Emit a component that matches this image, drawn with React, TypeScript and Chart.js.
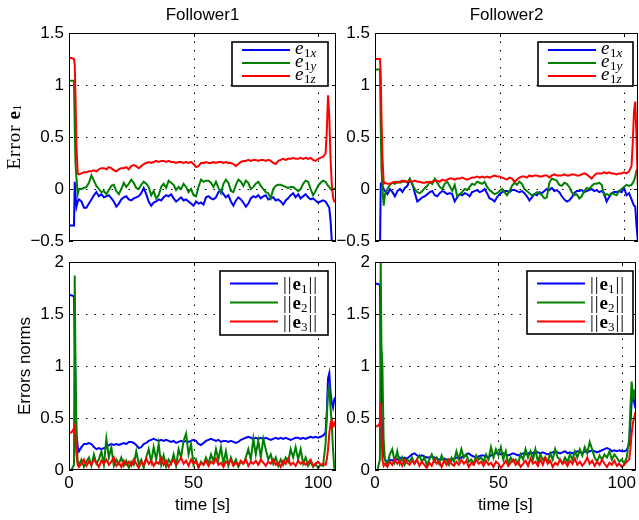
import React, { useEffect, useRef } from 'react';
import { Chart, registerables } from 'chart.js';

Chart.register(...registerables);

const SANS = '"Liberation Sans", Arial, Helvetica, sans-serif';
const SERIF = '"Liberation Serif", "Times New Roman", serif';

// ---------------- data ----------------
const TITLES = ['Follower1', 'Follower2'];
const X_TICKS = [0, 50, 100];
const Y_TICKS_TOP = [-0.5, 0, 0.5, 1, 1.5];
const Y_TICKS_BOTTOM = [0, 0.5, 1, 1.5, 2];
const LEGEND_TOP_SUB = ['1x', '1y', '1z'];
const LEGEND_BOTTOM_SUB = ['1', '2', '3'];

const T_F1 = [0, 1, 2, 2.3, 2.6, 3, 3.5, 4,
  5, 6, 7, 8, 9, 10, 11, 12, 13, 14,
  15, 16, 17, 18, 19, 20, 21, 22, 23, 24,
  25, 26, 27, 28, 29, 30, 31, 32, 33, 34,
  35, 36, 37, 38, 39, 40, 41, 42, 43, 44,
  45, 46, 47, 48, 49, 50, 51, 52, 53, 54,
  55, 56, 57, 58, 59, 60, 61, 62, 63, 64,
  65, 66, 67, 68, 69, 70, 71, 72, 73, 74,
  75, 76, 77, 78, 79, 80, 81, 82, 83, 84,
  85, 86, 87, 88, 89, 90, 91, 92, 93, 94,
  95, 96, 97, 98, 99, 100, 101, 102,
  103, 103.5, 104, 104.5, 105, 105.5, 106, 106.5, 107];

const T_F2 = [0, 1, 2, 2.3, 2.6, 3, 3.5, 4,
  5, 6, 7, 8, 9, 10, 11, 12, 13, 14,
  15, 16, 17, 18, 19, 20, 21, 22, 23, 24,
  25, 26, 27, 28, 29, 30, 31, 32, 33, 34,
  35, 36, 37, 38, 39, 40, 41, 42, 43, 44,
  45, 46, 47, 48, 49, 50, 51, 52, 53, 54,
  55, 56, 57, 58, 59, 60, 61, 62, 63, 64,
  65, 66, 67, 68, 69, 70, 71, 72, 73, 74,
  75, 76, 77, 78, 79, 80, 81, 82, 83, 84,
  85, 86, 87, 88, 89, 90, 91, 92, 93, 94,
  95, 96, 97, 98, 99, 100, 101, 102,
  103, 103.5, 104, 104.5, 105, 105.5, 106];

// Follower1, error e1 components
const F1_E1X = [-0.35, -0.35, -0.35, 0.07, -0.05, -0.17, -0.12, -0.1,
  -0.12, -0.18, -0.18, -0.14, -0.1, -0.06, -0.03, -0.07, -0.05, -0.08,
  -0.07, -0.06, -0.09, -0.12, -0.17, -0.14, -0.1, -0.08, -0.07, -0.1,
  -0.11, -0.09, -0.08, -0.07, -0.04, 0.01, -0.05, -0.12, -0.16, -0.13,
  -0.12, -0.1, -0.11, -0.08, -0.06, -0.07, -0.05, -0.09, -0.12, -0.1,
  -0.08, -0.11, -0.1, -0.12, -0.14, -0.16, -0.12, -0.14, -0.13, -0.15,
  -0.08, -0.07, -0.09, -0.1, -0.08, -0.03, -0.01, -0.05, -0.08, -0.06,
  -0.12, -0.16, -0.11, -0.08, -0.1, -0.13, -0.17, -0.14, -0.09, -0.07,
  -0.08, -0.06, -0.09, -0.07, -0.06, -0.1, -0.09, -0.08, -0.11, -0.1,
  -0.12, -0.15, -0.11, -0.09, -0.06, -0.04, -0.08, -0.05, -0.09, -0.07,
  -0.05, -0.08, -0.1, -0.09, -0.11, -0.13, -0.12, -0.11,
  -0.12, -0.14, -0.16, -0.18, -0.3, -0.5, -0.65, -0.75, -0.8];
const F1_E1Y = [1.04, 1.04, 1.04, 0.6, 0.25, 0.1, -0.05, 0.0,
  0.0, 0.01, 0.02, 0.06, 0.13, 0.08, 0.03, 0.0, -0.03, -0.02,
  -0.05, -0.01, 0.03, 0.04, -0.02, -0.05, 0.0, 0.06, 0.02, 0.05,
  0.09, 0.06, 0.01, 0.0, 0.04, 0.07, 0.05, 0.02, -0.06, -0.02,
  -0.09, -0.06, 0.02, 0.05, 0.01, 0.08, 0.06, 0.04, -0.01, 0.02,
  0.0, 0.05, 0.02, -0.03, 0.0, -0.06, -0.07, 0.02, 0.09, 0.07,
  0.08, 0.08, 0.06, 0.02, 0.07, 0.01, -0.04, 0.05, 0.09, 0.06,
  -0.02, -0.03, 0.04, 0.09, 0.07, 0.03, 0.08, 0.06, 0.0, 0.02,
  0.05, 0.07, 0.03, 0.0, -0.03, -0.04, -0.09, 0.0, 0.03, 0.04,
  0.04, 0.03, 0.02, 0.01, 0.02, 0.02, 0.0, -0.02, 0.0, 0.05,
  0.08, 0.07, 0.0, -0.06, -0.02, 0.03, 0.06, 0.08,
  0.07, 0.05, 0.03, 0.02, 0.0, -0.01, 0.0, 0.0, 0.01];
const F1_E1Z = [1.26, 1.26, 1.25, 1.2, 0.9, 0.4, 0.15, 0.14,
  0.15, 0.16, 0.16, 0.17, 0.17, 0.18, 0.17, 0.19, 0.2, 0.2,
  0.19, 0.21, 0.2, 0.18, 0.17, 0.19, 0.2, 0.2, 0.21, 0.19,
  0.22, 0.23, 0.22, 0.2, 0.22, 0.24, 0.25, 0.26, 0.25, 0.26,
  0.27, 0.26, 0.27, 0.27, 0.26, 0.27, 0.26, 0.26, 0.25, 0.26,
  0.26, 0.25, 0.26, 0.25, 0.26, 0.24, 0.21, 0.22, 0.25, 0.25,
  0.26, 0.25, 0.25, 0.26, 0.25, 0.26, 0.26, 0.25, 0.26, 0.25,
  0.25, 0.24, 0.22, 0.24, 0.26, 0.27, 0.27, 0.28, 0.27, 0.28,
  0.28, 0.27, 0.28, 0.28, 0.27, 0.28, 0.27, 0.25, 0.24, 0.27,
  0.28, 0.29, 0.28, 0.29, 0.29, 0.3, 0.29, 0.29, 0.3, 0.29,
  0.3, 0.29, 0.3, 0.28, 0.27, 0.29, 0.3, 0.31,
  0.34, 0.55, 0.9, 0.7, 0.3, 0.05, -0.08, -0.12, -0.12];

// Follower2, error e1 components
const F2_E1X = [-0.6, -0.6, -0.6, 0.05, 0.06, 0.03, 0.0, -0.02,
  -0.05, 0.0, -0.03, -0.07, -0.02, 0.0, -0.03, 0.01, 0.03, 0.09,
  0.05, -0.04, -0.12, -0.1, -0.08, -0.07, -0.05, -0.03, -0.02, -0.06,
  -0.07, -0.04, -0.02, -0.03, -0.05, -0.04, -0.05, -0.12, -0.08, -0.05,
  -0.06, -0.04, -0.05, -0.07, -0.03, -0.02, -0.01, -0.03, -0.02, 0.0,
  -0.04, -0.09, -0.1, -0.12, -0.08, -0.05, -0.03, -0.02, -0.02, -0.03,
  -0.01, -0.01, -0.02, -0.03, -0.02, -0.04, -0.07, -0.11, -0.08, -0.05,
  -0.06, -0.03, -0.04, -0.02, 0.0, -0.01, 0.01, -0.02, -0.01, -0.03,
  -0.07, -0.1, -0.12, -0.11, -0.08, -0.04, -0.02, -0.02, -0.01, -0.03,
  -0.02, -0.01, 0.0, -0.02, -0.01, -0.03, -0.02, -0.04, -0.12, -0.08,
  -0.04, -0.03, -0.03, -0.02, -0.03, 0.01, -0.06, -0.04,
  -0.1, -0.13, -0.16, -0.17, -0.35, -0.49, -0.6];
const F2_E1Y = [1.15, 1.15, 1.15, 0.6, 0.2, 0.0, -0.16, -0.05,
  0.0, 0.04, 0.06, 0.05, 0.07, 0.06, 0.07, 0.08, 0.06, 0.1,
  0.04, 0.0, -0.03, -0.04, -0.02, 0.01, 0.03, 0.07, 0.05, 0.1,
  0.06, 0.02, 0.0, 0.05, 0.07, 0.03, -0.02, 0.04, -0.07, -0.05,
  -0.03, 0.0, -0.01, 0.02, 0.05, 0.04, 0.07, 0.06, 0.05, 0.07,
  0.02, -0.01, -0.03, -0.05, -0.04, -0.02, 0.0, -0.03, -0.06, -0.02,
  0.03, 0.06, 0.04, 0.07, 0.05, 0.0, -0.02, -0.04, -0.06, -0.05,
  -0.03, -0.04, -0.06, -0.09, -0.08, 0.06, 0.1, 0.09, 0.08, 0.04,
  0.03, 0.06, 0.05, 0.02, -0.03, -0.06, -0.05, -0.09, -0.07, -0.02,
  0.01, 0.0, 0.03, 0.05, 0.05, 0.06, 0.04, -0.06, -0.05, -0.06,
  -0.04, -0.05, -0.06, -0.02, 0.0, 0.02, 0.04, 0.03,
  0.04, 0.06, 0.08, 0.12, 0.18, 0.19, 0.2];
const F2_E1Z = [1.25, 1.25, 1.25, 1.1, 0.7, 0.3, 0.05, 0.06,
  0.05, 0.05, 0.06, 0.07, 0.06, 0.07, 0.08, 0.07, 0.07, 0.08,
  0.07, 0.08, 0.07, 0.07, 0.06, 0.06, 0.07, 0.06, 0.07, 0.08,
  0.08, 0.07, 0.09, 0.08, 0.09, 0.1, 0.1, 0.09, 0.1, 0.1,
  0.11, 0.1, 0.09, 0.1, 0.11, 0.11, 0.12, 0.11, 0.12, 0.11,
  0.12, 0.11, 0.12, 0.13, 0.12, 0.12, 0.11, 0.1, 0.09, 0.11,
  0.1, 0.07, 0.09, 0.11, 0.12, 0.12, 0.11, 0.13, 0.12, 0.13,
  0.13, 0.12, 0.12, 0.13, 0.13, 0.11, 0.13, 0.14, 0.13, 0.13,
  0.13, 0.14, 0.13, 0.13, 0.14, 0.14, 0.13, 0.13, 0.14, 0.15,
  0.14, 0.12, 0.1, 0.13, 0.15, 0.15, 0.15, 0.16, 0.15, 0.16,
  0.15, 0.15, 0.14, 0.15, 0.15, 0.16, 0.15, 0.17,
  0.22, 0.45, 0.75, 0.84, 0.5, 0.05, -0.05];

// Follower1, error norms
const F1_N1 = [1.68, 1.68, 1.67, 1.3, 0.8, 0.35, 0.22, 0.18,
  0.22, 0.25, 0.25, 0.26, 0.25, 0.22, 0.2, 0.21, 0.2, 0.21,
  0.22, 0.24, 0.25, 0.24, 0.25, 0.24, 0.25, 0.26, 0.25, 0.27,
  0.27, 0.26, 0.24, 0.21, 0.22, 0.25, 0.26, 0.28, 0.29, 0.3,
  0.29, 0.28, 0.29, 0.28, 0.29, 0.28, 0.27, 0.28, 0.26, 0.27,
  0.28, 0.27, 0.28, 0.27, 0.28, 0.29, 0.28, 0.25, 0.24, 0.26,
  0.28, 0.29, 0.3, 0.29, 0.28, 0.29, 0.27, 0.28, 0.28, 0.27,
  0.28, 0.27, 0.26, 0.27, 0.29, 0.3, 0.31, 0.32, 0.31, 0.3,
  0.31, 0.3, 0.31, 0.3, 0.31, 0.3, 0.29, 0.3, 0.31, 0.3,
  0.31, 0.3, 0.31, 0.3, 0.29, 0.3, 0.31, 0.31, 0.3, 0.31,
  0.3, 0.31, 0.32, 0.31, 0.32, 0.31, 0.32, 0.33,
  0.36, 0.55, 0.88, 0.93, 0.75, 0.65, 0.6, 0.68, 0.7];
const F1_N2 = [0, 0, 0.05, 1.87, 1.0, 0.3, 0.08, 0.05,
  0.1, 0.03, 0.08, 0.12, 0.04, 0.15, 0.06, 0.1, 0.18, 0.05,
  0.3, 0.12, 0.22, 0.04, 0.1, 0.06, 0.12, 0.04, 0.09, 0.02,
  0.08, 0.05, 0.18, 0.06, 0.1, 0.02, 0.12, 0.2, 0.08, 0.22,
  0.1, 0.25, 0.05, 0.14, 0.03, 0.1, 0.06, 0.15, 0.04, 0.2,
  0.12, 0.28, 0.35, 0.15, 0.25, 0.05, 0.1, 0.02, 0.08, 0.05,
  0.12, 0.06, 0.15, 0.08, 0.2, 0.1, 0.22, 0.06, 0.18, 0.04,
  0.12, 0.05, 0.1, 0.03, 0.08, 0.06, 0.12, 0.2, 0.1, 0.3,
  0.15, 0.28, 0.12, 0.3, 0.2, 0.1, 0.15, 0.06, 0.12, 0.04,
  0.1, 0.05, 0.12, 0.08, 0.2, 0.12, 0.22, 0.1, 0.2, 0.06,
  0.12, 0.04, 0.08, 0.03, 0.06, 0.02, 0.05, 0.04,
  0.25, 0.5, 0.75, 0.8, 0.6, 0.45, 0.2, 0.02, 0.0];
const F1_N3 = [0.36, 0.36, 0.4, 0.45, 0.3, 0.15, 0.05, 0.03,
  0.06, 0.1, 0.04, 0.08, 0.05, 0.1, 0.07, 0.03, 0.09, 0.06,
  0.1, 0.05, 0.08, 0.12, 0.04, 0.07, 0.03, 0.09, 0.05, 0.08,
  0.04, 0.1, 0.06, 0.02, 0.08, 0.05, 0.11, 0.06, 0.09, 0.04,
  0.08, 0.06, 0.12, 0.05, 0.09, 0.03, 0.07, 0.1, 0.05, 0.08,
  0.12, 0.06, 0.09, 0.04, 0.1, 0.06, 0.08, 0.03, 0.07, 0.05,
  0.09, 0.04, 0.08, 0.06, 0.11, 0.05, 0.07, 0.03, 0.08, 0.06,
  0.1, 0.04, 0.07, 0.05, 0.09, 0.06, 0.1, 0.04, 0.08, 0.06,
  0.09, 0.05, 0.1, 0.07, 0.04, 0.08, 0.06, 0.1, 0.05, 0.07,
  0.03, 0.09, 0.06, 0.11, 0.05, 0.07, 0.04, 0.09, 0.06, 0.08,
  0.05, 0.07, 0.1, 0.04, 0.06, 0.08, 0.05, 0.06,
  0.05, 0.1, 0.2, 0.35, 0.45, 0.48, 0.42, 0.45, 0.42];

// Follower2, error norms
const F2_N1 = [1.79, 1.79, 1.78, 1.2, 0.6, 0.3, 0.15, 0.1,
  0.08, 0.1, 0.09, 0.11, 0.1, 0.12, 0.11, 0.12, 0.11, 0.13,
  0.15, 0.16, 0.14, 0.13, 0.14, 0.13, 0.12, 0.12, 0.13, 0.12,
  0.11, 0.1, 0.1, 0.11, 0.1, 0.1, 0.09, 0.11, 0.12, 0.11,
  0.12, 0.13, 0.15, 0.16, 0.14, 0.13, 0.12, 0.13, 0.14, 0.14,
  0.13, 0.12, 0.14, 0.15, 0.16, 0.16, 0.15, 0.16, 0.15, 0.14,
  0.15, 0.16, 0.15, 0.14, 0.15, 0.16, 0.15, 0.16, 0.17, 0.16,
  0.18, 0.17, 0.16, 0.17, 0.16, 0.15, 0.16, 0.17, 0.18, 0.17,
  0.16, 0.17, 0.18, 0.16, 0.17, 0.16, 0.17, 0.18, 0.17, 0.16,
  0.18, 0.17, 0.18, 0.19, 0.18, 0.17, 0.18, 0.19, 0.2, 0.21,
  0.2, 0.18, 0.19, 0.18, 0.19, 0.18, 0.18, 0.19,
  0.25, 0.45, 0.65, 0.77, 0.65, 0.6, 0.6];
const F2_N2 = [0, 0, 0.1, 2.05, 1.2, 1.0, 0.3, 0.1,
  0.05, 0.15, 0.2, 0.08, 0.18, 0.06, 0.12, 0.05, 0.1, 0.08,
  0.12, 0.06, 0.1, 0.14, 0.08, 0.12, 0.05, 0.1, 0.15, 0.08,
  0.12, 0.06, 0.14, 0.08, 0.1, 0.05, 0.12, 0.08, 0.18, 0.1,
  0.2, 0.12, 0.15, 0.08, 0.1, 0.06, 0.14, 0.1, 0.12, 0.08,
  0.15, 0.1, 0.22, 0.12, 0.2, 0.14, 0.22, 0.1, 0.18, 0.06,
  0.12, 0.08, 0.1, 0.06, 0.15, 0.1, 0.2, 0.12, 0.18, 0.1,
  0.2, 0.08, 0.15, 0.1, 0.12, 0.08, 0.16, 0.1, 0.2, 0.12,
  0.1, 0.06, 0.12, 0.08, 0.15, 0.1, 0.18, 0.12, 0.2, 0.14,
  0.22, 0.16, 0.27, 0.2, 0.12, 0.08, 0.14, 0.1, 0.15, 0.12,
  0.18, 0.1, 0.15, 0.12, 0.08, 0.1, 0.06, 0.12,
  0.3, 0.6, 0.85, 0.7, 0.75, 0.7, 0.72];
const F2_N3 = [0.42, 0.42, 0.45, 0.65, 0.4, 0.1, 0.04, 0.06,
  0.03, 0.08, 0.05, 0.1, 0.06, 0.09, 0.04, 0.1, 0.07, 0.05,
  0.09, 0.06, 0.1, 0.04, 0.08, 0.05, 0.02, 0.07, 0.04, 0.1,
  0.06, 0.08, 0.03, 0.09, 0.05, 0.1, 0.06, 0.04, 0.08, 0.05,
  0.1, 0.06, 0.09, 0.03, 0.07, 0.05, 0.1, 0.06, 0.08, 0.04,
  0.09, 0.05, 0.07, 0.03, 0.08, 0.06, 0.02, 0.05, 0.09, 0.04,
  0.07, 0.1, 0.05, 0.08, 0.03, 0.06, 0.09, 0.04, 0.11, 0.06,
  0.08, 0.04, 0.1, 0.05, 0.12, 0.06, 0.09, 0.03, 0.07, 0.05,
  0.1, 0.06, 0.08, 0.04, 0.09, 0.06, 0.11, 0.05, 0.08, 0.04,
  0.07, 0.12, 0.06, 0.09, 0.04, 0.08, 0.05, 0.1, 0.06, 0.03,
  0.07, 0.05, 0.09, 0.04, 0.06, 0.03, 0.05, 0.08,
  0.1, 0.2, 0.35, 0.45, 0.5, 0.55, 0.55];

// ---------------- styling / layout ----------------
const COLORS = ['#0000ff', '#008000', '#ff0000'];

type Run = { t: string; f: string; dy?: number; gap?: number };

const topLegendRuns = (sub: string): Run[] => [
  { t: 'e', f: `italic 19px ${SERIF}`, gap: 0.5 },
  { t: sub[0], f: `13px ${SERIF}`, dy: 3 },
  { t: sub.slice(1), f: `italic 13px ${SERIF}`, dy: 3 },
];
const bottomLegendRuns = (sub: string): Run[] => [
  { t: '|', f: `19px ${SERIF}`, gap: 1 },
  { t: '|', f: `19px ${SERIF}`, gap: 1 },
  { t: 'e', f: `bold 19px ${SERIF}` },
  { t: sub, f: `13px ${SERIF}`, dy: 3, gap: 1 },
  { t: '|', f: `19px ${SERIF}`, gap: 1 },
  { t: '|', f: `19px ${SERIF}` },
];

type Panel = {
  area: { l: number; t: number; r: number; b: number };
  xMax: number;
  yMin: number;
  yMax: number;
  yTicks: number[];
  showX: boolean;
  times: number[];
  series: number[][];
  title?: string;
  yTitle?: Run[];
  yTitleX?: number;
  legend: { x: number; y: number; w: number; h: number; rows: number[]; runs: Run[][]; baseShift: number };
};

const PANELS: Panel[] = [
  {
    area: { l: 69, t: 33, r: 336, b: 241 }, xMax: 107.2, yMin: -0.5, yMax: 1.5, yTicks: Y_TICKS_TOP,
    showX: false, times: T_F1, series: [F1_E1X, F1_E1Y, F1_E1Z], title: TITLES[0],
    yTitle: [
      { t: 'E', f: `19px ${SERIF}`, gap: 1 }, { t: 'r', f: `19px ${SERIF}`, gap: 1 },
      { t: 'r', f: `19px ${SERIF}`, gap: 1 }, { t: 'o', f: `19px ${SERIF}`, gap: 1 },
      { t: 'r', f: `19px ${SERIF}`, gap: 6 },
      { t: 'e', f: `bold 19px ${SERIF}` }, { t: '1', f: `13px ${SERIF}`, dy: 3 },
    ],
    yTitleX: 15,
    legend: { x: 232, y: 42, w: 96, h: 44, rows: [8, 21, 34], runs: LEGEND_TOP_SUB.map(topLegendRuns), baseShift: 4 },
  },
  {
    area: { l: 375, t: 33, r: 638, b: 241 }, xMax: 105.6, yMin: -0.5, yMax: 1.5, yTicks: Y_TICKS_TOP,
    showX: false, times: T_F2, series: [F2_E1X, F2_E1Y, F2_E1Z], title: TITLES[1],
    legend: { x: 538, y: 42, w: 95, h: 44, rows: [8, 21, 34], runs: LEGEND_TOP_SUB.map(topLegendRuns), baseShift: 4 },
  },
  {
    area: { l: 69, t: 262, r: 336, b: 470 }, xMax: 107.2, yMin: 0, yMax: 2, yTicks: Y_TICKS_BOTTOM,
    showX: true, times: T_F1, series: [F1_N1, F1_N2, F1_N3],
    yTitle: [{ t: 'Errors norms', f: `17px ${SANS}` }], yTitleX: 25,
    legend: { x: 220, y: 271, w: 108, h: 64, rows: [12.5, 31.5, 50.5], runs: LEGEND_BOTTOM_SUB.map(bottomLegendRuns), baseShift: 6 },
  },
  {
    area: { l: 375, t: 262, r: 638, b: 470 }, xMax: 105.6, yMin: 0, yMax: 2, yTicks: Y_TICKS_BOTTOM,
    showX: true, times: T_F2, series: [F2_N1, F2_N2, F2_N3],
    legend: { x: 527, y: 271, w: 106, h: 63, rows: [12.5, 31.5, 50.5], runs: LEGEND_BOTTOM_SUB.map(bottomLegendRuns), baseShift: 6 },
  },
];

function runsWidth(ctx: CanvasRenderingContext2D, runs: Run[]) {
  let w = 0;
  for (const r of runs) { ctx.font = r.f; w += ctx.measureText(r.t).width + (r.gap || 0); }
  return w;
}
function drawRuns(ctx: CanvasRenderingContext2D, runs: Run[], x: number, y: number) {
  let cx = x;
  for (const r of runs) {
    ctx.font = r.f;
    ctx.fillText(r.t, cx, y + (r.dy || 0));
    cx += ctx.measureText(r.t).width + (r.gap || 0);
  }
}

function makeDecor(p: Panel) {
  return {
    id: 'decor',
    beforeDatasetsDraw(chart: any) {
      const { ctx, chartArea: a, scales } = chart;
      ctx.save();
      ctx.strokeStyle = '#000';
      ctx.lineWidth = 1;
      ctx.setLineDash([1.5, 7]);
      for (const tk of scales.x.ticks) {
        const px = Math.round(scales.x.getPixelForValue(tk.value)) + 0.5;
        if (px < a.left + 2 || px > a.right - 2) continue;
        ctx.beginPath(); ctx.moveTo(px, a.top); ctx.lineTo(px, a.bottom); ctx.stroke();
      }
      for (const tk of scales.y.ticks) {
        const py = Math.round(scales.y.getPixelForValue(tk.value)) + 0.5;
        if (py < a.top + 2 || py > a.bottom - 2) continue;
        ctx.beginPath(); ctx.moveTo(a.left, py); ctx.lineTo(a.right, py); ctx.stroke();
      }
      ctx.restore();
    },
    afterDatasetsDraw(chart: any) {
      const { ctx, chartArea: a, scales } = chart;
      ctx.save();
      ctx.setLineDash([]);
      ctx.strokeStyle = '#000';
      ctx.lineWidth = 1;
      // inward ticks
      const tl = 4;
      for (const tk of scales.x.ticks) {
        const px = Math.round(scales.x.getPixelForValue(tk.value)) + 0.5;
        ctx.beginPath();
        ctx.moveTo(px, a.bottom); ctx.lineTo(px, a.bottom - tl);
        ctx.moveTo(px, a.top); ctx.lineTo(px, a.top + tl);
        ctx.stroke();
      }
      for (const tk of scales.y.ticks) {
        const py = Math.round(scales.y.getPixelForValue(tk.value)) + 0.5;
        ctx.beginPath();
        ctx.moveTo(a.left, py); ctx.lineTo(a.left + tl, py);
        ctx.moveTo(a.right, py); ctx.lineTo(a.right - tl, py);
        ctx.stroke();
      }
      // frame
      ctx.strokeRect(Math.round(a.left) + 0.5, Math.round(a.top) + 0.5, Math.round(a.right - a.left) - 1, Math.round(a.bottom - a.top) - 1);

      // legend
      const L = p.legend;
      ctx.fillStyle = '#fff';
      ctx.fillRect(L.x, L.y, L.w, L.h);
      ctx.lineWidth = 1.6;
      ctx.strokeStyle = '#000';
      ctx.strokeRect(L.x, L.y, L.w, L.h);
      L.rows.forEach((ry, i) => {
        const y = L.y + ry;
        ctx.strokeStyle = COLORS[i];
        ctx.lineWidth = 2;
        ctx.beginPath(); ctx.moveTo(L.x + 10, y); ctx.lineTo(L.x + 58, y); ctx.stroke();
        ctx.fillStyle = '#000';
        ctx.textBaseline = 'alphabetic';
        ctx.textAlign = 'left';
        drawRuns(ctx, L.runs[i], L.x + 63, y + L.baseShift);
      });

      // title
      ctx.fillStyle = '#000';
      if (p.title) {
        ctx.font = `17px ${SANS}`;
        ctx.textAlign = 'center';
        ctx.textBaseline = 'middle';
        ctx.fillText(p.title, (a.left + a.right) / 2, 15);
      }
      // x title
      if (p.showX) {
        ctx.font = `17px ${SANS}`;
        ctx.textAlign = 'center';
        ctx.textBaseline = 'middle';
        ctx.fillText('time [s]', (a.left + a.right) / 2, 505);
      }
      // y title
      if (p.yTitle && p.yTitleX !== undefined) {
        ctx.save();
        ctx.translate(p.yTitleX, (a.top + a.bottom) / 2);
        ctx.rotate(-Math.PI / 2);
        ctx.textAlign = 'left';
        ctx.textBaseline = 'middle';
        const w = runsWidth(ctx, p.yTitle);
        drawRuns(ctx, p.yTitle, -w / 2, 0);
        ctx.restore();
      }
      ctx.restore();
    },
  };
}

const fmt = (v: number) => (v < 0 ? '\u2212' + String(Math.abs(v)) : String(v));

function PanelChart({ p }: { p: Panel }) {
  const ref = useRef<HTMLCanvasElement | null>(null);
  useEffect(() => {
    if (!ref.current) return;
    const xh = p.showX ? 40 : 0;
    const yw = 60;
    const chart = new Chart(ref.current, {
      type: 'line',
      data: {
        datasets: p.series.map((vals, si) => ({
          data: p.times.map((t, i) => ({ x: t, y: vals[i] })),
          borderColor: COLORS[si],
          backgroundColor: COLORS[si],
          borderWidth: 2,
          pointRadius: 0,
          tension: 0,
          fill: false,
          order: 3 - si,
        })),
      },
      options: {
        animation: false,
        responsive: false,
        events: [],
        layout: {
          padding: { left: p.area.l - yw, top: p.area.t, right: 639 - p.area.r, bottom: 520 - p.area.b - xh },
        },
        scales: {
          x: {
            type: 'linear',
            min: 0,
            max: p.xMax,
            afterBuildTicks: (s: any) => { s.ticks = X_TICKS.map((v) => ({ value: v })); },
            afterFit: (s: any) => { s.height = xh; },
            grid: { display: false, drawTicks: false },
            border: { display: false },
            ticks: {
              display: p.showX, color: '#000', padding: 3, maxRotation: 0, autoSkip: false,
              font: { family: SANS, size: 17 },
              callback: (v: any) => fmt(Number(v)),
            },
          },
          y: {
            type: 'linear',
            min: p.yMin,
            max: p.yMax,
            afterBuildTicks: (s: any) => { s.ticks = p.yTicks.map((v) => ({ value: v })); },
            afterFit: (s: any) => { s.width = yw; },
            grid: { display: false, drawTicks: false },
            border: { display: false },
            ticks: {
              color: '#000', padding: 5, font: { family: SANS, size: 17 },
              callback: (v: any) => fmt(Number(v)),
            },
          },
        },
        plugins: { legend: { display: false }, tooltip: { enabled: false }, title: { display: false } },
      },
      plugins: [makeDecor(p)],
    } as any);
    return () => chart.destroy();
  }, [p]);
  return <canvas ref={ref} width={639} height={520} style={{ position: 'absolute', left: 0, top: 0 }} />;
}

export default function App() {
  return (
    <div style={{ position: 'absolute', left: 0, top: 0, width: 639, height: 520, background: '#fff', overflow: 'hidden' }}>
      {PANELS.map((p, i) => <PanelChart key={i} p={p} />)}
    </div>
  );
}
